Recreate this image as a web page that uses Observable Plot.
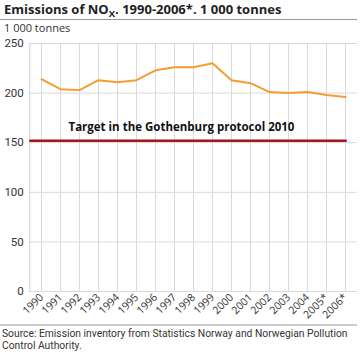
<!DOCTYPE html>
<html>
<head>
<meta charset="utf-8">
<script src="https://cdn.jsdelivr.net/npm/d3@7"></script>
<script src="https://cdn.jsdelivr.net/npm/@observablehq/plot@0.6"></script>
<style>
  html, body { margin: 0; padding: 0; background: #fff; }
  #wrap { position: relative; width: 360px; height: 353px; font-family: "Open Sans", sans-serif; color: #222; }
  #title { position: absolute; left: 4px; top: 0px; font-weight: bold; font-size: 13px; line-height: 18px; white-space: nowrap; }
  #title sub { font-size: 9.5px; vertical-align: -3px; line-height: 0; }
  #rule1 { position: absolute; left: 0; top: 19px; width: 357px; height: 1px; background: #999; }
  #ylab { position: absolute; left: 4px; top: 22px; font-size: 11px; line-height: 12px; color: #333; }
  #chart { position: absolute; left: 0; top: 36px; }
  #rule2 { position: absolute; left: 0; top: 324px; width: 357px; height: 2px; background: #ccc; }
  .src { position: absolute; left: 2px; font-family: Roboto, sans-serif; font-size: 10.3px; line-height: 12px; color: #333; white-space: nowrap; }
  #src1 { top: 328px; }
  #src2 { top: 340px; }
</style>
</head>
<body>
<div id="wrap">
  <div id="title">Emissions of NO<sub>X</sub>. 1990-2006*. 1 000 tonnes</div>
  <div id="rule1"></div>
  <div id="ylab">1 000 tonnes</div>
  <div id="chart"></div>
  <div id="rule2"></div>
  <div class="src" id="src1">Source: Emission inventory from Statistics Norway and Norwegian Pollution</div>
  <div class="src" id="src2">Control Authority.</div>
</div>
<script>
const years = ["1990","1991","1992","1993","1994","1995","1996","1997","1998","1999","2000","2001","2002","2003","2004","2005*","2006*"];
const emissions = [214, 204, 203, 213, 211, 213, 223, 226, 226, 230, 213, 210, 201, 200, 201, 198, 196];
const yTicks = [0, 50, 100, 150, 200, 250];
const target = 152;
const targetLabel = "Target in the Gothenburg protocol 2010";

const data = years.map((y, i) => ({year: y, value: emissions[i]}));

const chart = Plot.plot({
  width: 360,
  height: 284,
  marginTop: 7,
  marginBottom: 29,
  marginLeft: 29.3,
  marginRight: 3.3,
  style: {fontFamily: "Open Sans, sans-serif", fontSize: "11px", color: "#333", background: "transparent"},
  x: {type: "point", domain: years, padding: 0.5, label: null},
  y: {domain: [0, 250], label: null},
  marks: [
    Plot.ruleX(years, {stroke: "#d9d9d9", strokeWidth: 1}),
    Plot.ruleY(yTicks, {stroke: "#d9d9d9", strokeWidth: 1}),
    Plot.frame({anchor: "left", stroke: "#cfcfcf"}),
    Plot.ruleY([target], {stroke: "#a3141f", strokeWidth: 2.5, insetRight: 10}),
    Plot.text([targetLabel], {x: () => "1992", y: () => target, text: d => d, dx: -11, dy: -13, textAnchor: "start", fontWeight: "bold", fontSize: 11.5, fill: "#111"}),
    Plot.line(data, {x: "year", y: "value", stroke: "#f59c32", strokeWidth: 2}),
    Plot.axisY({ticks: yTicks, tickSize: 0, tickPadding: 6, fontSize: 11.5, fontFamily: "Roboto, sans-serif"}),
    Plot.axisX({tickRotate: -45, tickSize: 0, tickPadding: 4, fontSize: 10.5})
  ]
});
document.getElementById("chart").appendChild(chart);
</script>
</body>
</html>
